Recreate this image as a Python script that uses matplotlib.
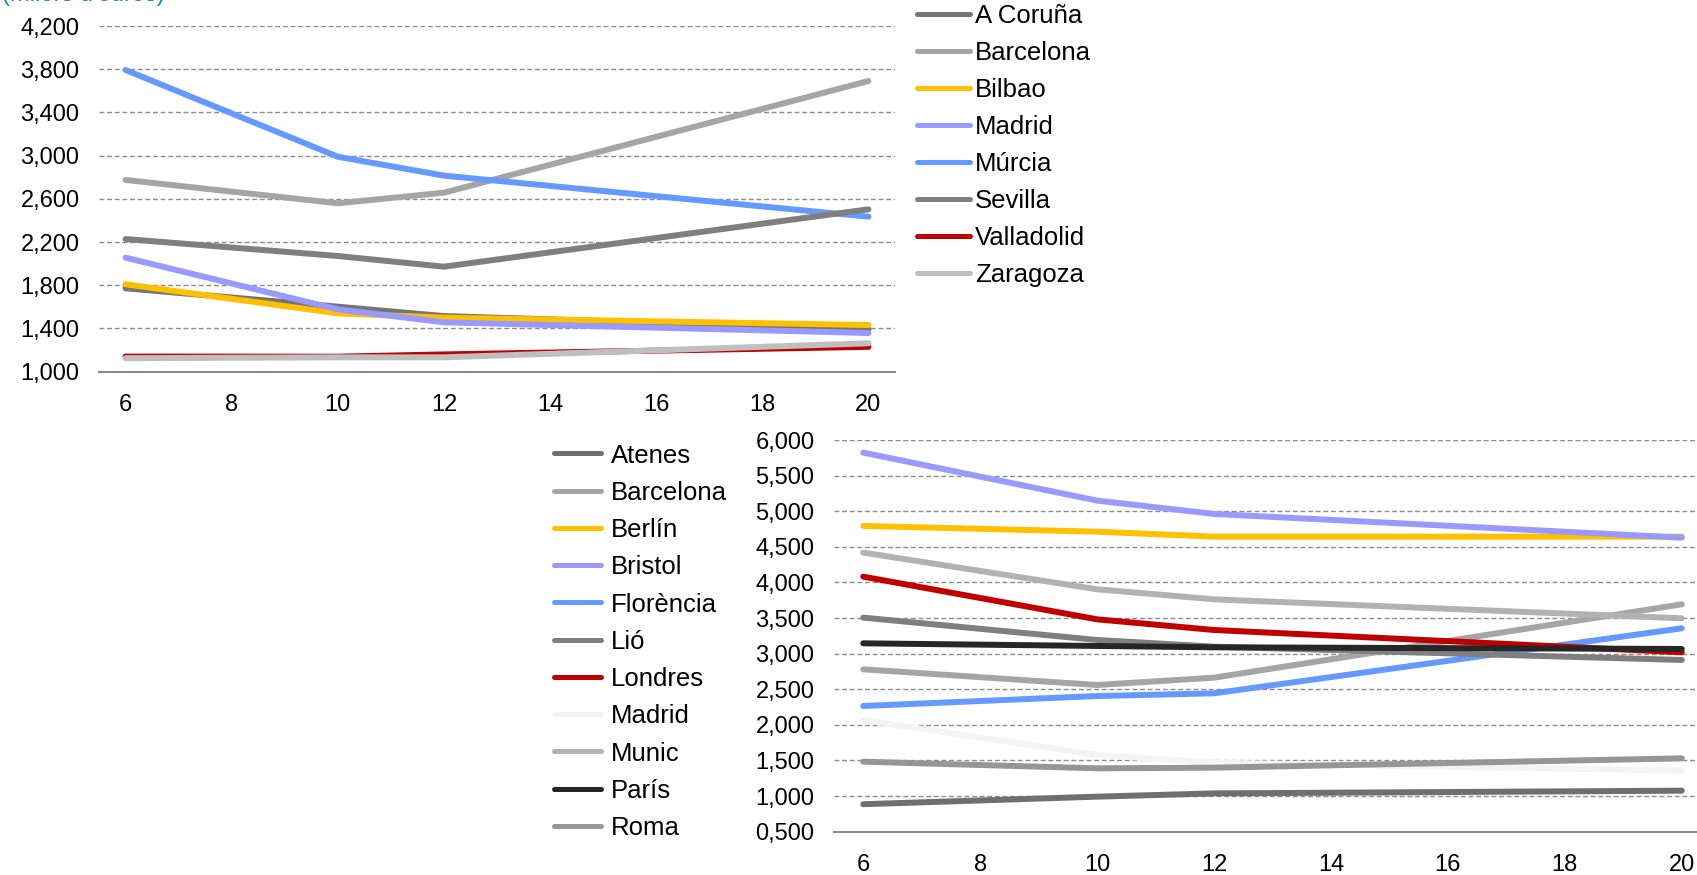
import matplotlib

matplotlib.use("Agg")
import matplotlib.pyplot as plt
from matplotlib.lines import Line2D
from matplotlib.ticker import FixedLocator, FuncFormatter

plt.rcParams["font.family"] = ["Liberation Sans", "DejaVu Sans"]

# values in thousands of euros
years = [6, 10, 12, 20]

top_names = ["A Coruña", "Barcelona", "Bilbao", "Madrid", "Múrcia",
             "Sevilla", "Valladolid", "Zaragoza"]
top_values = [
    [1.772, 1.602, 1.515, 1.392],   # A Coruña
    [2.775, 2.559, 2.657, 3.691],   # Barcelona
    [1.809, 1.540, 1.500, 1.432],   # Bilbao
    [2.056, 1.577, 1.457, 1.358],   # Madrid
    [3.793, 2.990, 2.815, 2.435],   # Múrcia
    [2.228, 2.071, 1.972, 2.503],   # Sevilla
    [1.140, 1.139, 1.160, 1.230],   # Valladolid
    [1.125, 1.133, 1.133, 1.263],   # Zaragoza
]
top_colors = ["#747474", "#A5A5A5", "#FFC000", "#9999FF", "#6699FF",
              "#7F7F7F", "#C00000", "#BFBFBF"]

bot_names = ["Atenes", "Barcelona", "Berlín", "Bristol", "Florència", "Lió",
             "Londres", "Madrid", "Munic", "París", "Roma"]
bot_values = [
    [0.886, 0.992, 1.038, 1.076],   # Atenes
    [2.780, 2.560, 2.663, 3.693],   # Barcelona
    [4.793, 4.713, 4.643, 4.643],   # Berlín
    [5.823, 5.149, 4.962, 4.629],   # Bristol
    [2.265, 2.405, 2.443, 3.356],   # Florència
    [3.506, 3.192, 3.098, 2.911],   # Lió
    [4.081, 3.482, 3.332, 3.019],   # Londres
    [2.068, 1.577, 1.469, 1.357],   # Madrid
    [4.419, 3.904, 3.763, 3.496],   # Munic
    [3.145, 3.108, 3.089, 3.066],   # París
    [1.483, 1.390, 1.399, 1.530],   # Roma
]
bot_colors = ["#6F6F6F", "#A5A5A5", "#FFC000", "#9999FF", "#6699FF",
              "#7F7F7F", "#C00000", "#F4F4F4", "#B2B2B2", "#262626", "#969696"]

top_yticks = [1.0, 1.4, 1.8, 2.2, 2.6, 3.0, 3.4, 3.8, 4.2]
bot_yticks = [0.5, 1.0, 1.5, 2.0, 2.5, 3.0, 3.5, 4.0, 4.5, 5.0, 5.5, 6.0]
xticks = [6, 8, 10, 12, 14, 16, 18, 20]

W, H = 1697, 875
LW = 4.3
GRID = "#8C8C8C"


def fx(px):
    return px / W


def fy(py):
    return 1 - py / H


def setup_axes(ax, yticks):
    ax.set_xlim(5.5, 20.5)
    ax.set_ylim(yticks[0], yticks[-1])
    ax.xaxis.set_major_locator(FixedLocator(xticks))
    ax.yaxis.set_major_locator(FixedLocator(yticks))
    ax.yaxis.set_major_formatter(
        FuncFormatter(lambda v, _: f"{v:.3f}".replace(".", ",")))
    for side in ("top", "right", "left"):
        ax.spines[side].set_visible(False)
    ax.spines["bottom"].set_color(GRID)
    ax.spines["bottom"].set_linewidth(1.5)
    ax.spines["bottom"].set_zorder(5)
    ax.tick_params(axis="both", length=0, labelsize=17, colors="black")
    ax.tick_params(axis="y", pad=14)
    ax.tick_params(axis="x", pad=16)
    ax.grid(axis="y", color=GRID, linewidth=1.0, linestyle=(0, (3.5, 2)))
    ax.set_axisbelow(True)


def draw_legend(fig, names, colors, x0, x1, xt, y0, step):
    for i, (name, col) in enumerate(zip(names, colors)):
        y = y0 + i * step
        fig.add_artist(Line2D([fx(x0), fx(x1)], [fy(y), fy(y)],
                              transform=fig.transFigure, color=col,
                              linewidth=3.6, solid_capstyle="round"))
        fig.text(fx(xt), fy(y + 9.3), name, fontsize=18.5, va="baseline",
                 ha="left", color="black")


fig = plt.figure(figsize=(W / 100, H / 100), dpi=100)

ax1 = fig.add_axes([fx(99), fy(371.7), fx(895 - 99), (371.7 - 26) / H])
setup_axes(ax1, top_yticks)
for vals, col in zip(top_values, top_colors):
    ax1.plot(years, vals, color=col, linewidth=LW, solid_capstyle="round",
             solid_joinstyle="round")

ax2 = fig.add_axes([fx(834), fy(831.7), fx(1711 - 834), (831.7 - 440) / H])
setup_axes(ax2, bot_yticks)
for vals, col in zip(bot_values, bot_colors):
    ax2.plot(years, vals, color=col, linewidth=LW, solid_capstyle="round",
             solid_joinstyle="round")

draw_legend(fig, top_names, top_colors, 917, 970, 975, 14, 36.96)
draw_legend(fig, bot_names, bot_colors, 554, 601, 611, 453.3, 37.27)

# unit label, cut off at the top edge of the image as in the source
fig.text(fx(2), fy(0.5), "(milers d'euros)", fontsize=17, color="#1589CF",
         va="baseline", ha="left")

fig.savefig("out.png", dpi=100)
